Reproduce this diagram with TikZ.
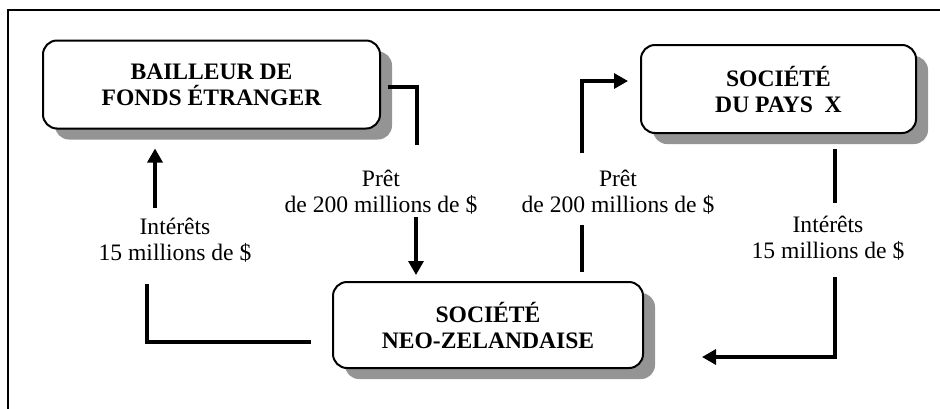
\documentclass[tikz,border=0pt]{standalone}
\usepackage{fontspec}
\setmainfont{Liberation Serif}
\usetikzlibrary{shapes,positioning,calc,arrows.meta,shadows}

\begin{document}
\begin{tikzpicture}[
    x=0.5pt,y=-0.5pt,
    box/.style={rectangle,rounded corners=7pt,draw,line width=1pt,fill=white,align=center,
        minimum width=168.5pt,minimum height=44pt,inner sep=2pt,
        font=\fontsize{11.8}{13}\selectfont\bfseries,
        drop shadow={shadow xshift=6pt,shadow yshift=-5.5pt,fill=black!42,opacity=1}},
    lbl/.style={align=center,inner sep=1pt,font=\fontsize{11.8}{12.7}\selectfont},
    flow/.style={line width=1.6pt},
    arr/.style={-{Triangle[length=7pt,width=7.5pt]}}
    ]
        \clip (0,0) rectangle (940,408);
        \draw [line width=0.75pt] (8,10) rectangle (960,430);

        \node [box](bailleur) at (211.5,84.5) {BAILLEUR DE\\FONDS ÉTRANGER};
        \node [box,minimum width=137.5pt](paysx) at (778.5,89) {SOCIÉTÉ\\DU PAYS~~X};
        \node [box,minimum width=155pt,minimum height=43pt](nz) at (488,325) {SOCIÉTÉ\\NEO-ZELANDAISE};

        \node [lbl](pretA) at (381,192) {Prêt\\de 200 millions de \$};
        \node [lbl](pretB) at (618,192) {Prêt\\de 200 millions de \$};
        \node [lbl](intA) at (175,240) {Intérêts\\15 millions de \$};
        \node [lbl](intB) at (828,238) {Intérêts\\15 millions de \$};

        \coordinate (a1) at (417,145);
        \coordinate (a2) at (416,217);
        \coordinate (b1) at (582,225);
        \coordinate (b2) at (582,153);
        \coordinate (c1) at (835,203);
        \coordinate (c2) at (835,277);
        \coordinate (c3) at (702,357);
        \coordinate (d1) at (147,284);
        \coordinate (d2) at (155,208);

        % pret : bailleur -> nz -> pays x
        \draw [flow] ([xshift=3.5pt,yshift=-1.25pt]bailleur.east) -| (a1);
        \draw [flow,arr,shorten >=3pt] (a2) -- (a2 |- nz.north);
        \draw [flow,shorten <=4.5pt] (b1 |- nz.north) -- (b1);
        \draw [flow,arr,shorten >=6pt] (b2) |- ([yshift=4pt]paysx.west);
        % interets : pays x -> nz -> bailleur
        \draw [flow,shorten <=7.5pt] (c1 |- paysx.south) -- (c1);
        \draw [flow,arr] (c2) |- (c3);
        \draw [flow] ([xshift=-10.5pt,yshift=-8.5pt]nz.west) -| (d1);
        \draw [flow,arr,shorten >=9.5pt] (d2) -- (d2 |- bailleur.south);
\end{tikzpicture}
\end{document}
